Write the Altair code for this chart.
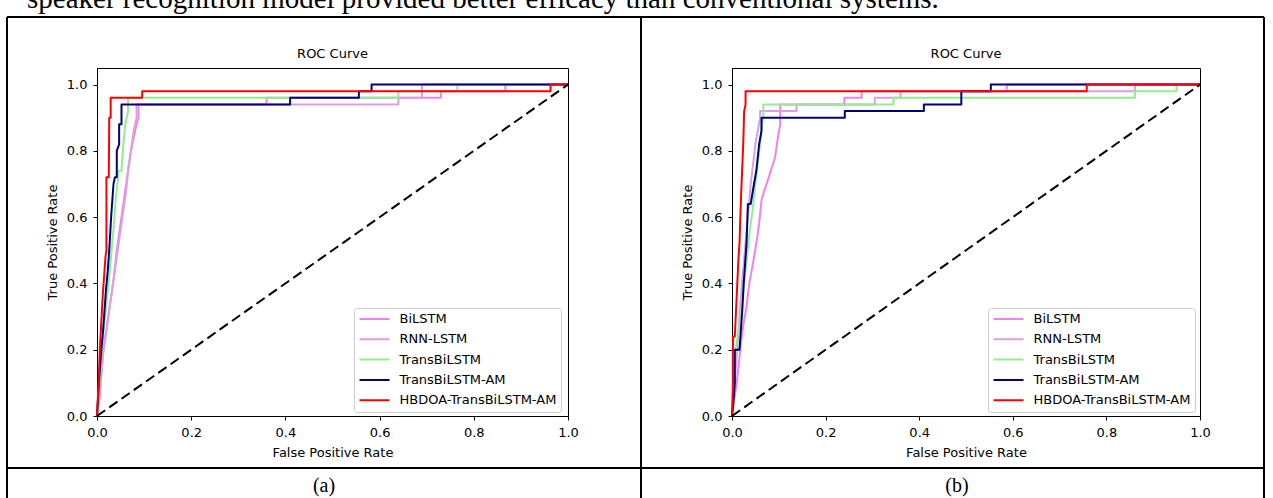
import altair as alt
import pandas as pd

MODELS = ["BiLSTM", "RNN-LSTM", "TransBiLSTM", "TransBiLSTM-AM", "HBDOA-TransBiLSTM-AM"]
COLORS = ["#ee82ee", "#dda0dd", "#90ee90", "#000080", "#ff0000"]
TICKS = [0.0, 0.2, 0.4, 0.6, 0.8, 1.0]
CHANCE_FPR = [0.0, 1.0]
CHANCE_TPR = [0.0, 1.0]
TOP_TEXT = "speaker recognition model provided better efficacy than conventional systems."
CAPTIONS = ["(a)", "(b)"]
TITLE = "ROC Curve"

# ---------------- panel (a) ----------------
A_BILSTM_FPR = [0, 0.004, 0.008, 0.012, 0.018, 0.024, 0.03, 0.036, 0.042, 0.048, 0.054, 0.06, 0.066, 0.072, 0.078, 0.084, 0.088, 0.088, 0.36, 0.36, 0.73, 0.73, 0.867, 0.867, 1.0]
A_BILSTM_TPR = [0, 0.04, 0.1, 0.18, 0.24, 0.3, 0.36, 0.42, 0.5, 0.56, 0.62, 0.68, 0.74, 0.8, 0.84, 0.88, 0.9, 0.94, 0.94, 0.96, 0.96, 0.98, 0.98, 1.0, 1.0]
A_RNN_FPR = [0, 0.006, 0.01, 0.014, 0.02, 0.026, 0.032, 0.038, 0.044, 0.05, 0.056, 0.062, 0.066, 0.072, 0.078, 0.084, 0.084, 0.64, 0.64, 0.69, 0.69, 1.0]
A_RNN_TPR = [0, 0.06, 0.14, 0.2, 0.26, 0.32, 0.38, 0.44, 0.5, 0.56, 0.62, 0.68, 0.74, 0.8, 0.86, 0.9, 0.94, 0.94, 0.96, 0.96, 1.0, 1.0]
A_TRANS_FPR = [0, 0.004, 0.008, 0.014, 0.02, 0.026, 0.031, 0.036, 0.04, 0.045, 0.045, 0.052, 0.056, 0.06, 0.066, 0.066, 0.64, 0.64, 0.765, 0.765, 1.0]
A_TRANS_TPR = [0, 0.08, 0.16, 0.26, 0.34, 0.42, 0.5, 0.58, 0.66, 0.72, 0.74, 0.74, 0.82, 0.88, 0.92, 0.96, 0.96, 0.98, 0.98, 1.0, 1.0]
A_TRANSAM_FPR = [0, 0.004, 0.008, 0.013, 0.019, 0.023, 0.026, 0.03, 0.035, 0.038, 0.042, 0.042, 0.047, 0.047, 0.052, 0.052, 0.41, 0.41, 0.556, 0.556, 0.583, 0.583, 1.0]
A_TRANSAM_TPR = [0, 0.1, 0.18, 0.26, 0.38, 0.44, 0.5, 0.6, 0.7, 0.72, 0.72, 0.8, 0.82, 0.88, 0.88, 0.94, 0.94, 0.96, 0.96, 0.98, 0.98, 1.0, 1.0]
A_HBDOA_FPR = [0, 0.002, 0.004, 0.006, 0.009, 0.012, 0.015, 0.018, 0.02, 0.02, 0.025, 0.026, 0.029, 0.029, 0.096, 0.096, 0.963, 0.963, 1.0]
A_HBDOA_TPR = [0, 0.06, 0.12, 0.2, 0.28, 0.36, 0.42, 0.48, 0.5, 0.72, 0.72, 0.9, 0.9, 0.96, 0.96, 0.98, 0.98, 1.0, 1.0]

# ---------------- panel (b) ----------------
B_BILSTM_FPR = [0, 0.004, 0.01, 0.015, 0.019, 0.025, 0.031, 0.037, 0.046, 0.053, 0.058, 0.063, 0.069, 0.074, 0.083, 0.092, 0.098, 0.103, 0.103, 0.24, 0.24, 0.277, 0.277, 0.587, 0.587, 1.0]
B_BILSTM_TPR = [0, 0.04, 0.1, 0.16, 0.22, 0.28, 0.33, 0.4, 0.47, 0.53, 0.58, 0.65, 0.68, 0.7, 0.74, 0.78, 0.84, 0.88, 0.94, 0.94, 0.96, 0.96, 0.98, 0.98, 1.0, 1.0]
B_RNN_FPR = [0, 0.004, 0.008, 0.012, 0.016, 0.02, 0.025, 0.03, 0.035, 0.04, 0.045, 0.05, 0.055, 0.06, 0.06, 0.138, 0.138, 0.305, 0.305, 0.36, 0.36, 0.861, 0.861, 1.0]
B_RNN_TPR = [0, 0.06, 0.14, 0.22, 0.3, 0.38, 0.46, 0.54, 0.62, 0.7, 0.76, 0.82, 0.86, 0.9, 0.92, 0.92, 0.94, 0.94, 0.96, 0.96, 0.98, 0.98, 1.0, 1.0]
B_TRANS_FPR = [0, 0.003, 0.008, 0.014, 0.02, 0.026, 0.032, 0.038, 0.044, 0.05, 0.055, 0.06, 0.064, 0.067, 0.067, 0.345, 0.345, 0.861, 0.861, 0.95, 0.95, 1.0]
B_TRANS_TPR = [0, 0.1, 0.2, 0.26, 0.32, 0.4, 0.48, 0.56, 0.62, 0.7, 0.76, 0.82, 0.88, 0.9, 0.94, 0.94, 0.96, 0.96, 0.98, 0.98, 1.0, 1.0]
B_TRANSAM_FPR = [0, 0.004, 0.006, 0.006, 0.016, 0.019, 0.022, 0.025, 0.028, 0.031, 0.034, 0.04, 0.047, 0.052, 0.055, 0.058, 0.063, 0.063, 0.241, 0.241, 0.41, 0.41, 0.49, 0.49, 0.553, 0.553, 1.0]
B_TRANSAM_TPR = [0, 0.06, 0.1, 0.2, 0.2, 0.26, 0.32, 0.4, 0.46, 0.52, 0.64, 0.64, 0.7, 0.74, 0.78, 0.82, 0.86, 0.9, 0.9, 0.92, 0.92, 0.94, 0.94, 0.98, 0.98, 1.0, 1.0]
B_HBDOA_FPR = [0, 0.002, 0.002, 0.006, 0.008, 0.01, 0.012, 0.014, 0.016, 0.018, 0.021, 0.024, 0.026, 0.029, 0.029, 0.758, 0.758, 1.0]
B_HBDOA_TPR = [0, 0.1, 0.24, 0.24, 0.3, 0.36, 0.42, 0.48, 0.52, 0.61, 0.72, 0.82, 0.92, 0.94, 0.98, 0.98, 1.0, 1.0]

SERIES_A = {
    "BiLSTM": (A_BILSTM_FPR, A_BILSTM_TPR),
    "RNN-LSTM": (A_RNN_FPR, A_RNN_TPR),
    "TransBiLSTM": (A_TRANS_FPR, A_TRANS_TPR),
    "TransBiLSTM-AM": (A_TRANSAM_FPR, A_TRANSAM_TPR),
    "HBDOA-TransBiLSTM-AM": (A_HBDOA_FPR, A_HBDOA_TPR),
}
SERIES_B = {
    "BiLSTM": (B_BILSTM_FPR, B_BILSTM_TPR),
    "RNN-LSTM": (B_RNN_FPR, B_RNN_TPR),
    "TransBiLSTM": (B_TRANS_FPR, B_TRANS_TPR),
    "TransBiLSTM-AM": (B_TRANSAM_FPR, B_TRANSAM_TPR),
    "HBDOA-TransBiLSTM-AM": (B_HBDOA_FPR, B_HBDOA_TPR),
}

FONT = "DejaVu Sans"
SERIF = "Liberation Serif"
FS = 13
PLOT_H = 348

X = alt.X("fpr:Q", title="False Positive Rate",
          scale=alt.Scale(domain=[0, 1], nice=False, zero=False),
          axis=alt.Axis(values=TICKS, format=".1f"))
Y = alt.Y("tpr:Q", title="True Positive Rate",
          scale=alt.Scale(domain=[0, 1.05], nice=False, zero=False),
          axis=alt.Axis(values=TICKS, format=".1f"))
DUMMY = pd.DataFrame({"k": [0]})


def make_color(legend_x, legend_y):
    legend = alt.Legend(
        title=None, orient="none", legendX=legend_x, legendY=legend_y, symbolType="stroke",
        symbolSize=900, symbolStrokeWidth=2, labelFont=FONT, labelFontSize=FS,
        labelColor="black", labelOffset=9, padding=4.5, rowPadding=6.3, clipHeight=13,
        fillColor="rgba(255,255,255,0.8)", strokeColor="#cccccc", cornerRadius=3,
    )
    return alt.Color("model:N", scale=alt.Scale(domain=MODELS, range=COLORS), legend=legend)


def series_df(fpr, tpr, model):
    return pd.DataFrame({"fpr": fpr, "tpr": tpr, "model": model, "i": list(range(len(fpr)))})


def rule(x1, x2, y1, y2):
    return alt.Chart(DUMMY).mark_rule(color="black", strokeWidth=2).encode(
        x=alt.value(x1), x2=alt.value(x2), y=alt.value(y1), y2=alt.value(y2))


def panel(series, width, caption, cap_x, frame, legend_x, legend_y, extra=None):
    color = make_color(legend_x, legend_y)
    layers = []
    for m in MODELS:
        fpr, tpr = series[m]
        layers.append(
            alt.Chart(series_df(fpr, tpr, m)).mark_line(strokeWidth=2, strokeJoin="round")
            .encode(x=X, y=Y, color=color, order=alt.Order("i:Q"))
        )
    layers.append(
        alt.Chart(pd.DataFrame({"fpr": CHANCE_FPR, "tpr": CHANCE_TPR}))
        .mark_line(color="black", strokeWidth=2, strokeDash=[10, 5])
        .encode(x=X, y=Y)
    )
    for f in frame:
        layers.append(rule(*f))
    # panel title
    layers.append(
        alt.Chart(DUMMY).mark_text(text=TITLE, font=FONT, fontSize=FS, align="center",
                                   baseline="middle", color="black")
        .encode(x=alt.value(width / 2), y=alt.value(-14))
    )
    # caption under the panel
    layers.append(
        alt.Chart(DUMMY).mark_text(text=caption, font=SERIF, fontSize=20, align="center",
                                   baseline="alphabetic", color="black")
        .encode(x=alt.value(cap_x), y=alt.value(424))
    )
    if extra is not None:
        layers.append(extra)
    return alt.layer(*layers).properties(width=width, height=PLOT_H)


top_text = alt.Chart(DUMMY).mark_text(
    text=TOP_TEXT, font=SERIF, fontSize=29, align="left", baseline="alphabetic", color="black"
).encode(x=alt.value(-70), y=alt.value(-60))

frame_a = [
    (-90, 544, -51, -51),   # top border
    (-90, -90, -51, 431),   # left border
    (544, 544, -51, 431),   # middle divider
    (-90, 544, 400, 400),   # caption separator
]
frame_b = [
    (-91, 532, -51, -51),
    (532, 532, -51, 431),
    (-91, 532, 400, 400),
]

pa = panel(SERIES_A, 471, CAPTIONS[0], 227, frame_a, 257, 240, extra=top_text)
pb = panel(SERIES_B, 468, CAPTIONS[1], 225, frame_b, 256, 240)

chart = (
    alt.hconcat(pa, pb, spacing=164, bounds="flush")
    .resolve_scale(color="independent")
    .resolve_legend(color="independent")
    .properties(padding={"left": 5, "top": -16, "right": 0, "bottom": -2}, background="white")
    .configure_view(stroke="black", strokeWidth=1)
    .configure_axis(
        grid=False, domainColor="black", domainWidth=1, tickColor="black", tickWidth=1,
        tickSize=4, labelFont=FONT, labelFontSize=FS, labelColor="black", labelPadding=6,
        labelFlush=False, labelOverlap=False, titleFont=FONT, titleFontSize=FS,
        titleFontWeight="normal", titleColor="black", titlePadding=7,
    )
)

chart.save("out.html", embed_options={"renderer": "svg", "actions": False})
